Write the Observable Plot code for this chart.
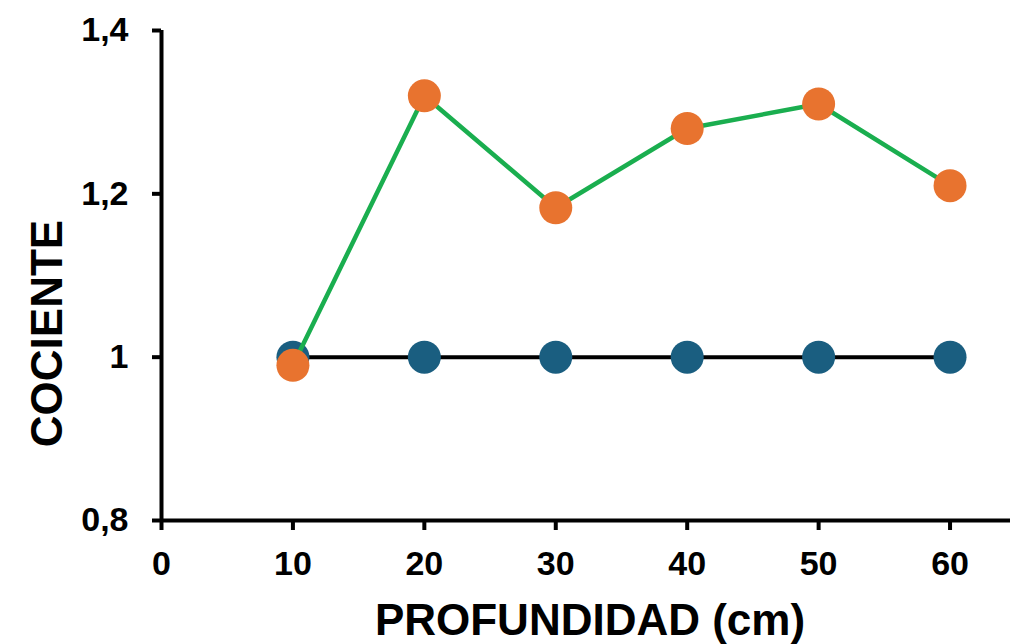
<!DOCTYPE html>
<html>
<head>
<meta charset="utf-8">
<script src="https://cdn.jsdelivr.net/npm/d3@7"></script>
<script src="https://cdn.jsdelivr.net/npm/@observablehq/plot@0.6"></script>
<style>
  html, body { margin: 0; padding: 0; background: #fff; }
  #chart svg { display: block; }
</style>
</head>
<body>
<div id="chart"></div>
<script>
const depth = [10, 20, 30, 40, 50, 60];
const referenceValues = [1, 1, 1, 1, 1, 1];
const cocienteValues = [0.99, 1.32, 1.183, 1.28, 1.31, 1.21];
const xTicks = [0, 10, 20, 30, 40, 50, 60];
const yTicks = [0.8, 1, 1.2, 1.4];
const xTitle = "PROFUNDIDAD (cm)";
const yTitle = "COCIENTE";

const refData = depth.map((d, i) => ({x: d, y: referenceValues[i]}));
const cocData = depth.map((d, i) => ({x: d, y: cocienteValues[i]}));

const font = "'Liberation Sans', Arial, Helvetica, sans-serif";
const blue = "#1a5e80";
const orange = "#e8732f";
const green = "#1aae4f";

const chart = Plot.plot({
  width: 1010,
  height: 644,
  marginLeft: 161,
  marginRight: 0,
  marginTop: 30,
  marginBottom: 124,
  style: {fontFamily: font, fontWeight: "bold", color: "#000", background: "#fff", overflow: "visible"},
  x: {domain: [0, 64.6]},
  y: {domain: [0.8, 1.4]},
  marks: [
    Plot.axisX({ticks: xTicks, tickSize: 10, tickPadding: 20, tickFormat: d => String(d), fontSize: 34, strokeWidth: 4, label: null}),
    Plot.axisY({ticks: yTicks, tickSize: 9, tickPadding: 24, tickFormat: d => String(d).replace(".", ","), fontSize: 34, strokeWidth: 4, label: null}),
    Plot.ruleY([0.8], {stroke: "#000", strokeWidth: 4}),
    Plot.ruleX([0], {stroke: "#000", strokeWidth: 4}),
    Plot.line(refData, {x: "x", y: "y", stroke: "#000", strokeWidth: 4}),
    Plot.dot(refData, {x: "x", y: "y", r: 16.5, fill: blue}),
    Plot.line(cocData, {x: "x", y: "y", stroke: green, strokeWidth: 4.5}),
    Plot.dot(cocData, {x: "x", y: "y", r: 16.5, fill: orange}),
    Plot.text([xTitle], {text: d => d, frameAnchor: "bottom", lineAnchor: "top", dy: 83, dx: 4, fontSize: 44, fontWeight: "bold", fill: "#000"}),
    Plot.text([yTitle], {text: d => d, frameAnchor: "left", rotate: -90, lineAnchor: "middle", textAnchor: "middle", dx: -114, dy: 58, fontSize: 44, fontWeight: "bold", fill: "#000"})
  ]
});
document.getElementById("chart").appendChild(chart);
</script>
</body>
</html>
